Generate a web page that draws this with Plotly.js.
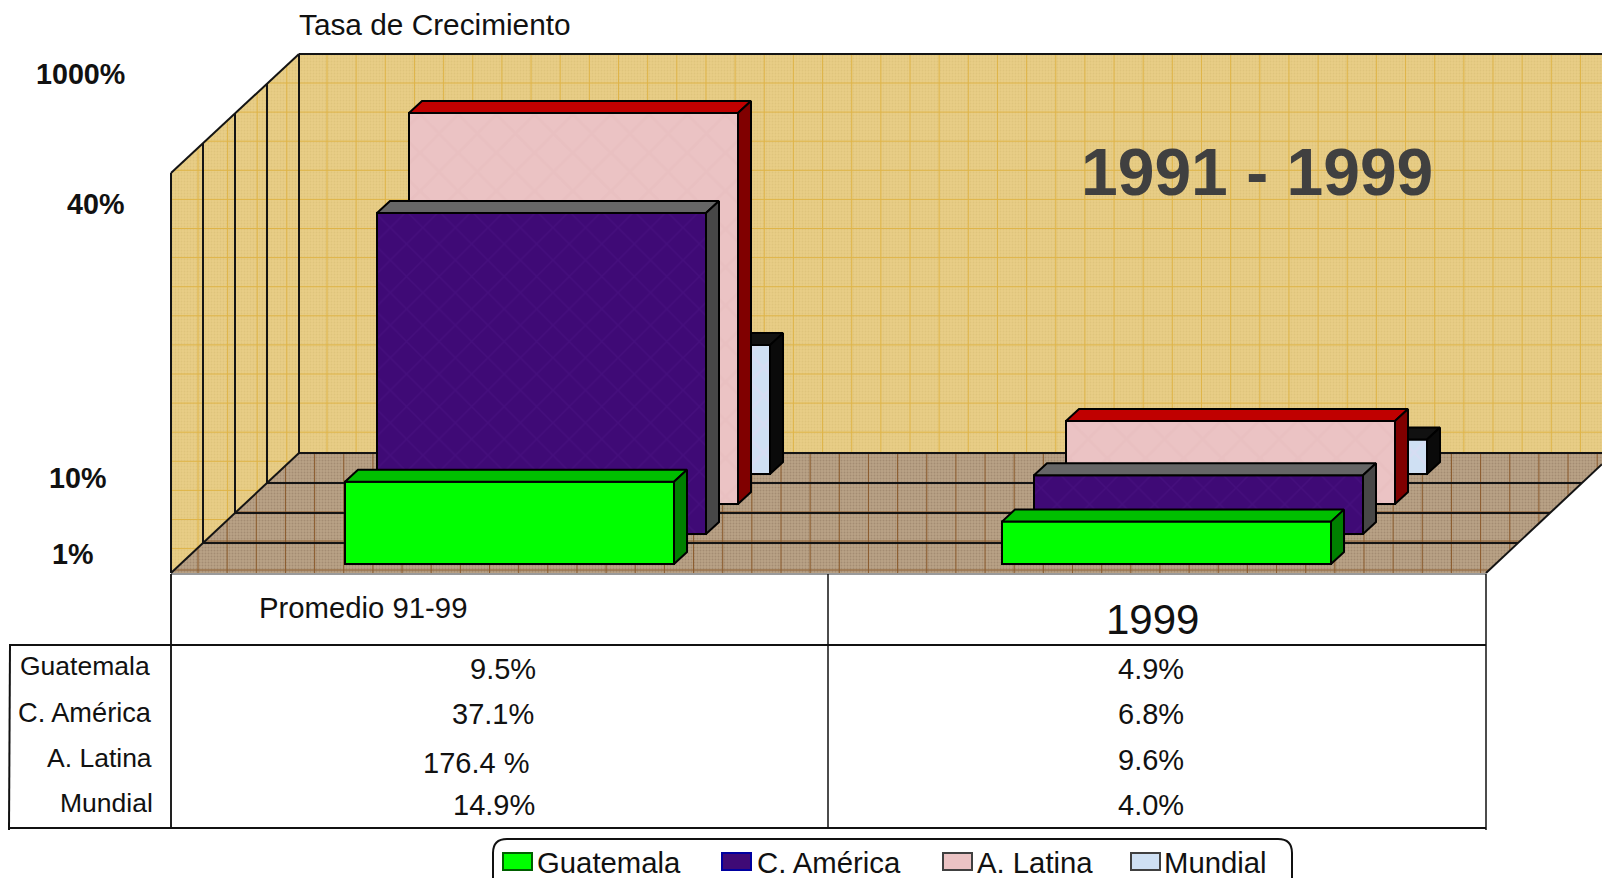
<!DOCTYPE html>
<html>
<head>
<meta charset="utf-8">
<script src="https://cdn.plot.ly/plotly-3.0.1.min.js"></script>
<style>html,body{margin:0;padding:0;background:#fff}</style>
</head>
<body>
<div id="chart" style="width:1602px;height:878px"></div>
<script>
// ---- data ----
const categories = ['Promedio 91-99', '1999'];
const seriesNames = ['Guatemala', 'C. América', 'A. Latina', 'Mundial'];
const guatemala = [9.5, 4.9];
const cAmerica = [37.1, 6.8];
const aLatina = [176.4, 9.6];
const mundial = [14.9, 4.0];
const col1Labels = ['9.5%', '37.1%', '176.4 %', '14.9%'];
const col2Labels = ['4.9%', '6.8%', '9.6%', '4.0%'];
const tickLabels = ['1000%', '40%', '10%', '1%'];
const chartTitle = 'Tasa de Crecimiento';
const periodLabel = '1991 - 1999';

// ---- geometry of the fake 3-D scene (page pixels) ----
const W = 1602, H = 878;
const FONT = 'Liberation Sans, Arial, sans-serif';
const PX_PER_UNIT = 8.65;      // value axis, below the break
const BREAK_AT = 40, ABOVE_BREAK = 5.2 / 136.4; // the source axis compresses above 40
const GROUP_PITCH = 657, BAR_W = 329;
const DEPTH_DX = 13, DEPTH_DY = 12;
const axisPos = v => v <= BREAK_AT ? v : BREAK_AT + (v - BREAK_AT) * ABOVE_BREAK;

const styles = [
  {values: guatemala, front: '#00ff00', top: '#00bf00', side: '#008000', swatchLine: '#006000',
   pattern: null},
  {values: cAmerica, front: '#3f0a76', top: '#666666', side: '#474747', swatchLine: '#0000a0',
   pattern: {shape: 'x', size: 23, solidity: 0.12, fgcolor: '#531a8e', fgopacity: 0.3}},
  {values: aLatina, front: '#ebc3c4', top: '#c00000', side: '#800000', swatchLine: '#404040',
   pattern: {shape: 'x', size: 27, solidity: 0.2, fgcolor: '#e3b8ba', fgopacity: 0.3}},
  {values: mundial, front: '#cfe0f3', top: '#111111', side: '#0a0a0a', swatchLine: '#404040',
   pattern: {shape: 'x', size: 20, solidity: 0.25, fgcolor: '#e0d8f2', fgopacity: 0.4}}
];

const traces = [];
const layout = {
  width: W, height: H, margin: {l: 0, r: 0, t: 0, b: 0, pad: 0},
  paper_bgcolor: '#ffffff', plot_bgcolor: 'rgba(0,0,0,0)',
  showlegend: false, bargap: 1 - BAR_W / GROUP_PITCH, barmode: 'overlay',
  title: {text: chartTitle, x: 299 / W, xanchor: 'left', xref: 'paper',
          y: 1 - 25 / H, yanchor: 'middle', yref: 'paper', pad: {l: 0, r: 0, t: 0, b: 0},
          font: {family: FONT, size: 29.8, color: '#111'}},
  xaxis: {range: [0, W], domain: [0, 1], visible: false, fixedrange: true},
  yaxis: {range: [H, 0], domain: [0, 1], visible: false, fixedrange: true},
  shapes: [], annotations: []
};

// ---- scene frame, on the page-pixel axes ----
function frame(name, x, y, extra) {
  traces.push(Object.assign({type: 'scatter', mode: 'lines', x, y, xaxis: 'x', yaxis: 'y',
    name, hoverinfo: 'skip', showlegend: false}, extra));
}
const wallPat = {shape: '.', size: 3, solidity: 0.3, fgcolor: '#d9be74', fgopacity: 0.6, bgcolor: '#e8cd86'};
const floorPat = {shape: '.', size: 3, solidity: 0.35, fgcolor: '#9c8469', fgopacity: 0.7, bgcolor: '#b9a286'};
frame('wall', [171, 299, W, W, 299, 171, 171], [173, 54, 54, 453, 453, 573, 173],
  {fill: 'toself', fillcolor: '#e6cb84', fillpattern: wallPat, line: {width: 0}});
frame('floor', [171, 299, W, W, 1486, 171], [573, 453, 453, 464.25, 573, 573],
  {fill: 'toself', fillcolor: '#b59e82', fillpattern: floorPat, line: {width: 0}});

// texture grid
const wallGX = [], wallGY = [], floorGX = [], floorGY = [];
for (let x = 327; x < W; x += 29.15) { wallGX.push(x, x, null); wallGY.push(54, 453, null); }
for (let y = 83; y < 453; y += 29.1) { wallGX.push(299, W, null); wallGY.push(y, y, null); }
for (let y = 83; y < 573; y += 29.1) {
  if (y < 173) {
    const xStart = 299 - (y - 54) * 128 / 119;
    wallGX.push(xStart, 299, null); wallGY.push(y, y, null);
  } else {
    const xEnd = y > 453 ? 299 - (y - 453) * 128 / 120 : 299;
    wallGX.push(171, xEnd, null); wallGY.push(y, y, null);
  }
}
for (let x = 198; x < 299; x += 29.6) {
  const yTop = 173 - (x - 171) * 119 / 128;
  const yBot = 573 - (x - 171) * 120 / 128;
  wallGX.push(x, x, null); wallGY.push(yTop, yBot, null);
}
for (let x = 198; x < W; x += 29.15) {
  const yTop = x < 299 ? 573 - (x - 171) * 120 / 128 : 453;
  const yBot = x > 1486 ? 573 - (x - 1486) * 120 / 128 : 573;
  floorGX.push(x, x, null); floorGY.push(yTop, yBot, null);
}
for (const y of [570, 541, 512, 483]) {
  const xL = 171 + (573 - y) * 128 / 120, xR = 1486 + (573 - y) * 128 / 120;
  floorGX.push(xL, Math.min(xR, W), null); floorGY.push(y, y, null);
}
frame('wall grid', wallGX, wallGY, {line: {color: '#dfb448', width: 1}});
frame('floor grid', floorGX, floorGY, {line: {color: '#8a5a2c', width: 1}});

// scene outlines
const outX = [], outY = [];
const seg = (x0, y0, x1, y1) => { outX.push(x0, x1, null); outY.push(y0, y1, null); };
seg(171, 173, 299, 54); seg(299, 54, W, 54); seg(171, 173, 171, 573); seg(299, 54, 299, 453);
seg(299, 453, W, 453); seg(171, 573, 299, 453); seg(1486, 573, W, 464.25);
[[203, 143, 543], [235, 113, 513], [267, 84, 483]].forEach(([x, yT, yB]) => {
  seg(x, yT, x, yB);
  seg(x, yB, 1486 + (573 - yB) * 128 / 120, yB);
});
frame('outlines', outX, outY, {line: {color: '#141414', width: 2}});

// ---- bars: back series first; each series gets its own axes, shifted in depth ----
[3, 2, 1, 0].forEach((s, order) => {
  const st = styles[s];
  const n = order + 2;
  const cx = 345 + 32 * s + BAR_W / 2;   // page x of category index 0
  const base = 564 - 30 * s;             // page y of value 0
  layout['xaxis' + n] = {range: [-cx / GROUP_PITCH, (W - cx) / GROUP_PITCH], domain: [0, 1],
    anchor: 'y' + n, visible: false, type: 'linear', fixedrange: true};
  layout['yaxis' + n] = {range: [-(H - base) / PX_PER_UNIT, base / PX_PER_UNIT], domain: [0, 1],
    anchor: 'x' + n, visible: false, type: 'linear', fixedrange: true};
  const xa = 'x' + n, ya = 'y' + n;
  const idx = categories.map((_, i) => i);
  const heights = st.values.map(axisPos);
  const hw = BAR_W / GROUP_PITCH / 2, dx = DEPTH_DX / GROUP_PITCH, dy = DEPTH_DY / PX_PER_UNIT;

  const topX = [], topY = [], sideX = [], sideY = [];
  idx.forEach(i => {
    const h = heights[i];
    topX.push(i - hw, i + hw, i + hw + dx, i - hw + dx, i - hw, null);
    topY.push(h, h, h + dy, h + dy, h, null);
    sideX.push(i + hw, i + hw + dx, i + hw + dx, i + hw, i + hw, null);
    sideY.push(h, h + dy, dy, 0, h, null);
  });
  const marker = {color: st.front, line: {color: '#000', width: 2}};
  if (st.pattern) marker.pattern = Object.assign({bgcolor: st.front}, st.pattern);
  traces.push({type: 'bar', name: seriesNames[s], x: idx, y: heights, text: categories,
    textposition: 'none', customdata: st.values, hovertemplate: '%{text}: %{customdata}%<extra>' + seriesNames[s] + '</extra>',
    xaxis: xa, yaxis: ya, marker, width: BAR_W / GROUP_PITCH});
  traces.push({type: 'scatter', mode: 'lines', x: topX, y: topY, xaxis: xa, yaxis: ya, fill: 'toself',
    fillcolor: st.top, line: {color: '#000', width: 2}, hoverinfo: 'skip', showlegend: false, cliponaxis: false});
  traces.push({type: 'scatter', mode: 'lines', x: sideX, y: sideY, xaxis: xa, yaxis: ya, fill: 'toself',
    fillcolor: st.side, line: {color: '#000', width: 2}, hoverinfo: 'skip', showlegend: false, cliponaxis: false});
});

// ---- table rules ----
const rule = (x0, y0, x1, y1, w, c) => layout.shapes.push({type: 'line', xref: 'x', yref: 'y', x0, y0, x1, y1,
  layer: 'below', line: {color: c || '#111', width: w || 2}});
rule(171, 574, 1486, 574, 2, '#9a9a9a');
rule(171, 574, 171, 829, 2, '#222');
rule(828, 574, 828, 829, 1.5);
rule(1486, 574, 1486, 830, 1.5);
rule(9, 645, 1486, 645, 2);
rule(10, 645, 9, 830, 2);
rule(9, 828, 1486, 828, 2);

// ---- text ----
const note = (text, x, y, size, anchor, opts) => layout.annotations.push(Object.assign({
  text, x, y, xref: 'x', yref: 'y', xanchor: anchor || 'left', yanchor: 'middle', showarrow: false,
  font: {family: FONT, size, color: '#111'}, borderpad: 0, borderwidth: 0}, opts || {}));

[[125, 74], [124, 204], [106, 478], [93, 554]].forEach(([x, y], i) =>
  note('<b>' + tickLabels[i] + '</b>', x, y, 28.7, 'right'));
note('<b>' + periodLabel + '</b>', 1257, 172, 66, 'center', {font: {family: FONT, size: 66, color: '#404040'}});
note(categories[0], 258.5, 607, 29.3);
note(categories[1], 1152, 619, 42, 'center');
[[20, 666, 26.5], [18, 712, 27.2], [47, 758, 26.5], [60, 803, 26.5]].forEach(([x, y, sz], i) => note(seriesNames[i], x, y, sz));
[[470, 669], [452, 714], [423, 763], [452.5, 805]].forEach(([x, y], i) => note(col1Labels[i], x, y, 29));
[669, 714, 760, 805].forEach((y, i) => note(col2Labels[i], 1151, y, 29, 'center'));

// ---- legend box ----
layout.shapes.push({type: 'path', xref: 'x', yref: 'y', layer: 'below',
  path: 'M 507 839 L 1278 839 Q 1292 839 1292 853 L 1292 878 M 493 878 L 493 853 Q 493 839 507 839',
  line: {color: '#111', width: 2}});
[[503, 536.5], [722, 756.5], [943, 976.5], [1131, 1164]].forEach(([x, tx], i) => {
  layout.shapes.push({type: 'rect', xref: 'x', yref: 'y', layer: 'below', x0: x, x1: x + 29, y0: 853, y1: 870,
    fillcolor: styles[i].front, line: {color: styles[i].swatchLine, width: 2}});
  note(seriesNames[i], tx, 862, 29.3);
});

Plotly.newPlot('chart', traces, layout, {displayModeBar: false, responsive: false});
</script>
</body>
</html>
